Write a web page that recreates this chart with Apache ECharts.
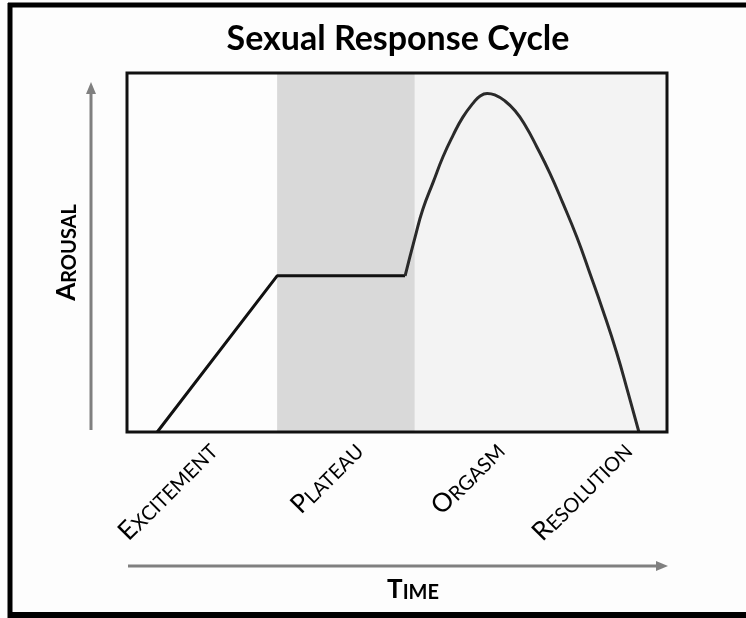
<!DOCTYPE html>
<html>
<head>
<meta charset="utf-8">
<script src="https://cdn.jsdelivr.net/npm/echarts@6/dist/echarts.min.js"></script>
<style>
  html, body { margin: 0; padding: 0; background: #fdfdfd; }
  #chart { width: 746px; height: 618px; }
</style>
</head>
<body>
<div id="chart"></div>
<script>
// stages along the time axis (0..100) and where their labels sit
const stageNames = ['Excitement', 'Plateau', 'Orgasm', 'Resolution'];
const stageLabelAt = [15.8, 42.8, 69, 92.6];
// background bands: [from, to]
const bandExcitement = [0, 27.8];
const bandPlateau = [27.8, 53.3];
const bandLater = [53.3, 100];

// arousal curve
const riseLine = [[5.6, 0], [27.8, 43.5], [51.5, 43.5]];
const peakCurve = [
  [51.5, 43.5], [53.3, 54.0], [54.8, 62.1], [56.7, 69.6], [58.5, 76.6],
  [60.4, 82.7], [62.2, 87.7], [64.1, 91.6], [65.4, 93.6], [66.7, 94.3],
  [68.1, 93.9], [70.0, 92.2], [71.9, 89.4], [73.7, 85.5], [75.9, 79.4],
  [78.3, 72.1], [80.7, 63.8], [83.3, 54.3], [85.7, 44.3], [88.1, 34.0],
  [90.7, 22.0], [92.8, 10.9], [94.8, 0]
];

const FONT = 'Lato';

function smallCaps(s) {
  return '{a|' + s.charAt(0).toUpperCase() + '}{b|' + s.slice(1).toUpperCase() + '}';
}

var myChart = echarts.init(document.getElementById('chart'));

let nameRich = {
  a: {fontFamily: FONT, fontWeight: 'bold', fontSize: 26, color: '#000', verticalAlign: 'bottom', lineHeight: 26},
  b: {fontFamily: FONT, fontWeight: 'bold', fontSize: 20, color: '#000', verticalAlign: 'bottom', lineHeight: 20}
};

let option = {
  backgroundColor: '#fdfdfd',
  animation: false,
  title: {
    text: 'Sexual Response Cycle',
    left: 393, top: 17, textAlign: 'center',
    textStyle: {fontFamily: FONT, fontWeight: 'bold', fontSize: 34, color: '#000'}
  },
  grid: {
    left: 127, right: 79, top: 73, bottom: 186, z: 5,
    show: true, borderColor: '#111', borderWidth: 3, backgroundColor: 'rgba(0,0,0,0)'
  },
  xAxis: {
    type: 'value', min: 0, max: 100,
    axisLine: {show: false}, axisTick: {show: false}, splitLine: {show: false},
    name: smallCaps('Time'), nameLocation: 'middle', nameGap: 145,
    nameTextStyle: {padding: [0, 0, 0, 32], rich: nameRich},
    axisLabel: {
      customValues: stageLabelAt,
      rotate: 45, margin: 14,
      formatter: (v) => {
        let i = stageLabelAt.indexOf(v);
        return i < 0 ? '' : smallCaps(stageNames[i]);
      },
      rich: {
        a: {fontFamily: FONT, fontSize: 26, color: '#000', verticalAlign: 'bottom', lineHeight: 26},
        b: {fontFamily: FONT, fontSize: 20, color: '#000', verticalAlign: 'bottom', lineHeight: 20}
      }
    }
  },
  yAxis: {
    type: 'value', min: 0, max: 100,
    axisLine: {show: false}, axisTick: {show: false}, axisLabel: {show: false}, splitLine: {show: false},
    name: smallCaps('Arousal'), nameLocation: 'middle', nameGap: 47, nameRotate: 90,
    nameTextStyle: {rich: nameRich}
  },
  series: [
    {
      type: 'line', data: riseLine, symbol: 'none', z: 3,
      lineStyle: {color: '#111', width: 3},
      markArea: {
        silent: true,
        data: [
          [{xAxis: bandExcitement[0], itemStyle: {color: '#fdfdfd'}}, {xAxis: bandExcitement[1]}],
          [{xAxis: bandPlateau[0], itemStyle: {color: '#d9d9d9'}}, {xAxis: bandPlateau[1]}],
          [{xAxis: bandLater[0], itemStyle: {color: '#f3f3f3'}}, {xAxis: bandLater[1]}]
        ]
      }
    },
    {
      type: 'line', data: peakCurve, symbol: 'none', smooth: 0.5, z: 3,
      lineStyle: {color: '#2a2a2a', width: 3}
    }
  ],
  graphic: [
    // outer frame: left, top, bottom (right edge is outside the picture)
    {type: 'line', z: 100, shape: {x1: 10, y1: 3, x2: 10, y2: 618}, style: {stroke: '#000', lineWidth: 5}},
    {type: 'line', z: 100, shape: {x1: 8, y1: 5, x2: 746, y2: 5}, style: {stroke: '#000', lineWidth: 5}},
    {type: 'line', z: 100, shape: {x1: 8, y1: 615, x2: 746, y2: 615}, style: {stroke: '#000', lineWidth: 6}},
    // arousal arrow
    {type: 'line', shape: {x1: 91, y1: 430, x2: 91, y2: 92}, style: {stroke: '#808080', lineWidth: 3}},
    {type: 'polygon', shape: {points: [[91, 82], [86, 94], [96, 94]]}, style: {fill: '#808080'}},
    // time arrow
    {type: 'line', shape: {x1: 128, y1: 566, x2: 657, y2: 566}, style: {stroke: '#808080', lineWidth: 3}},
    {type: 'polygon', shape: {points: [[668, 566], [656, 561], [656, 571]]}, style: {fill: '#808080'}}
  ]
};

myChart.setOption(option);
</script>
</body>
</html>
